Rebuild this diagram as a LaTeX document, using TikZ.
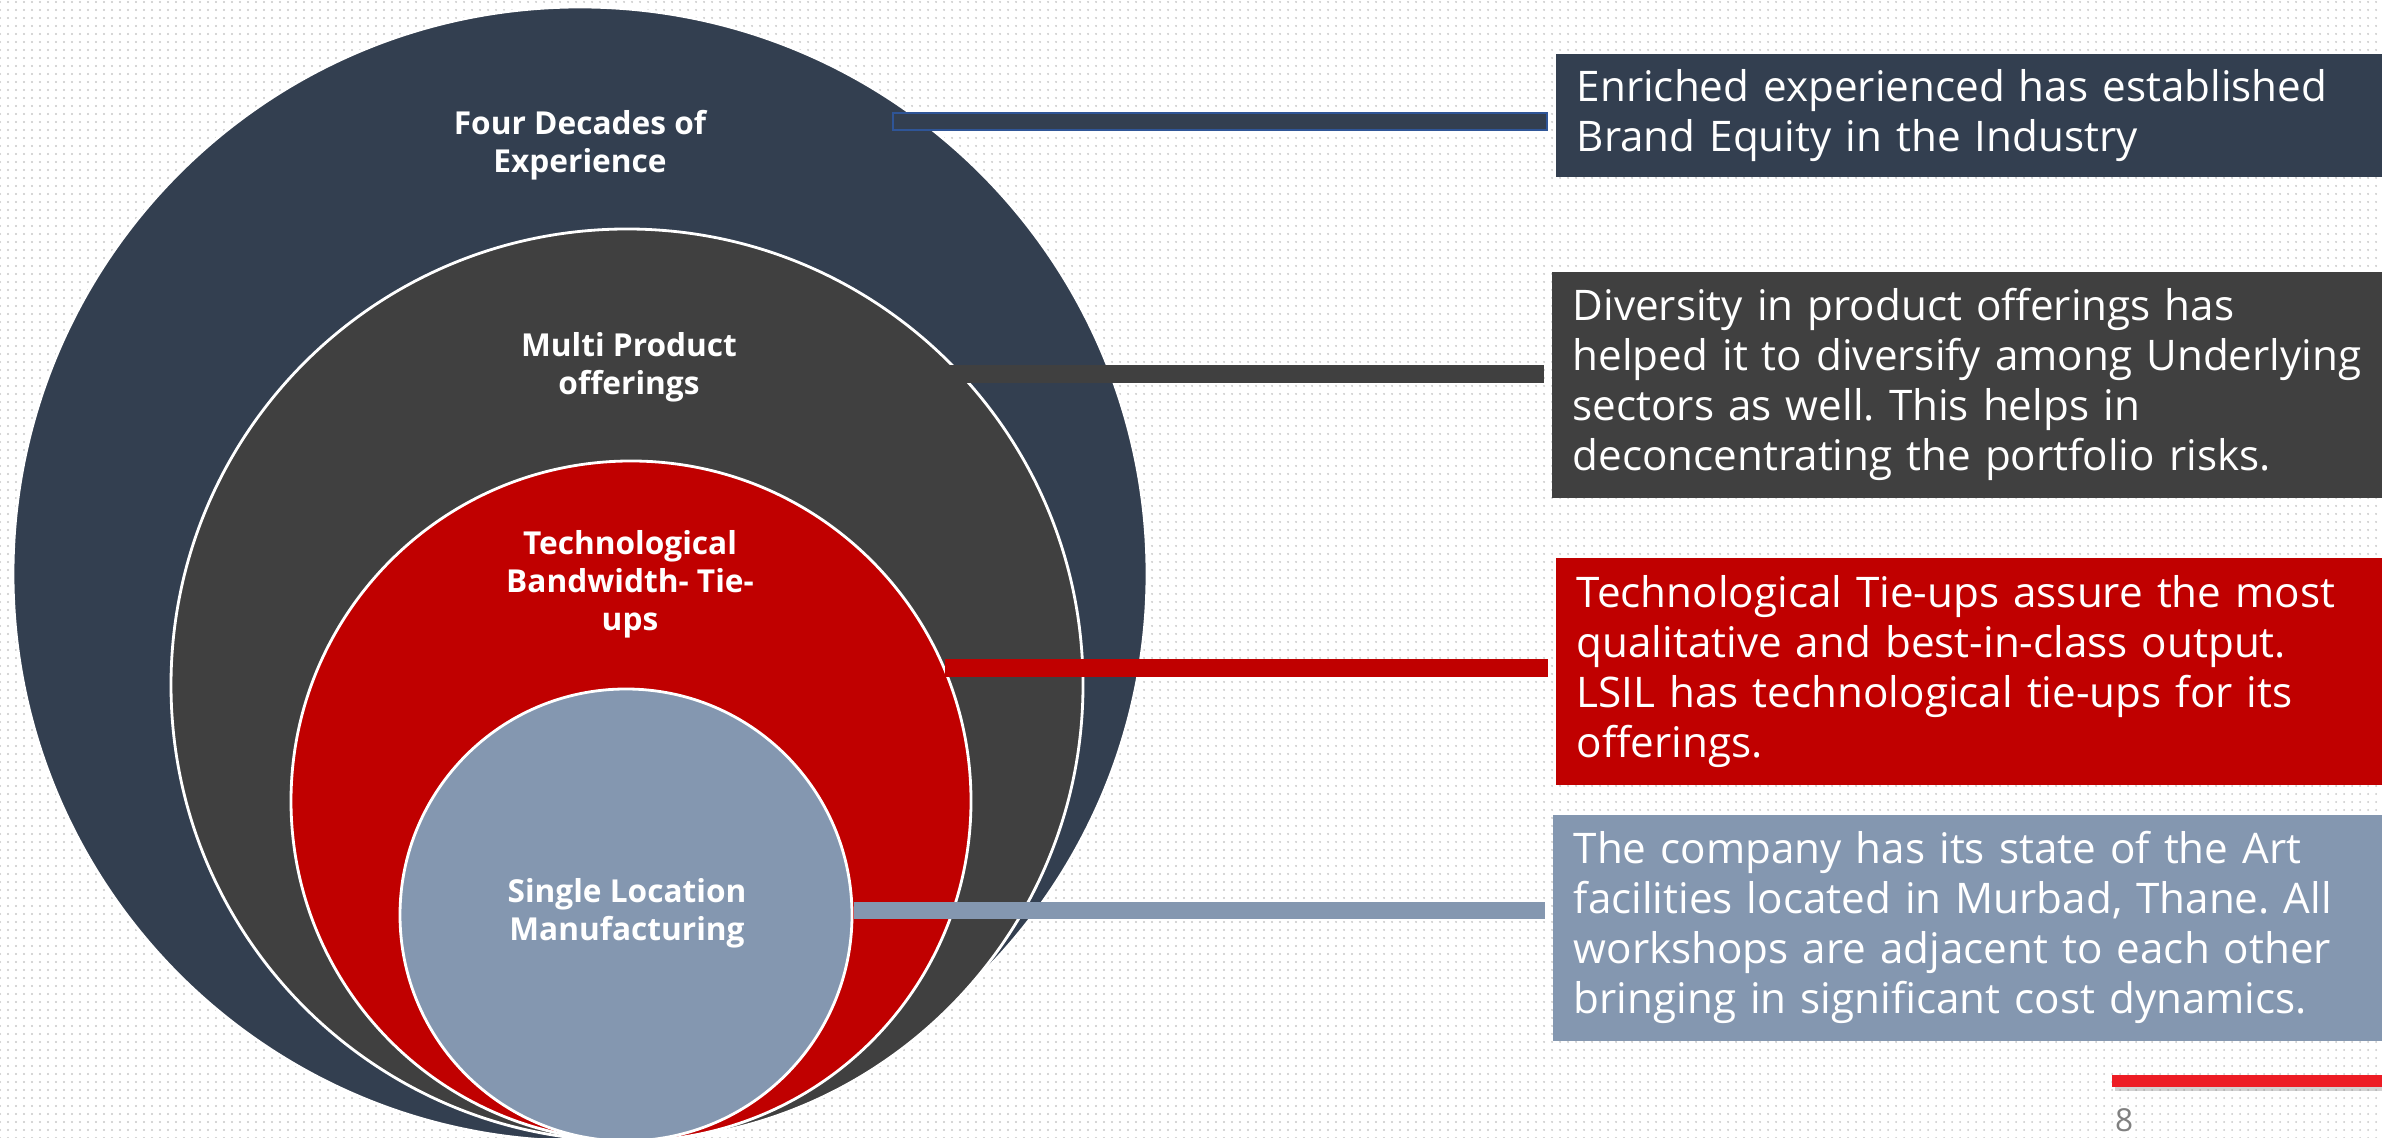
\documentclass[tikz,border=0pt]{standalone}
\usepackage{fontspec}
\setmainfont{Open Sans}
\usetikzlibrary{positioning, patterns.meta, shadows}
\definecolor{slate}{HTML}{333F50}
\definecolor{charcoal}{HTML}{404040}
\definecolor{crimson}{HTML}{C00000}
\definecolor{steel}{HTML}{8497B0}
\definecolor{rim}{HTML}{2F5597}
\definecolor{accent}{HTML}{ED1C24}
\definecolor{dotgray}{HTML}{C8C8C8}
\tikzset{
  node distance=0.2cm and 0.2cm,
  ring/.style={
      circle,
      draw=white,
      line width=0.8pt,
      inner sep=0pt
    },
  lbl/.style={
      text=white,
      align=center,
      font=\fontsize{9}{10.8}\selectfont\bfseries
    },
  box/.style={
      rectangle,
      anchor=north west,
      text=white,
      text width=7.95cm,
      inner xsep=0.21cm,
      align=left,
      font=\fontsize{12}{14.2}\selectfont\frenchspacing
    },
  bar/.style={
      line width=0.18cm,
      shorten >=0.07cm
    },
  rule/.style={
      rectangle,
      fill=accent,
      inner sep=0pt,
      minimum width=2.7cm,
      minimum height=0.12cm,
      drop shadow={shadow xshift=0.03cm, shadow yshift=-0.04cm, opacity=0.35}
    },
  pagenum/.style={
      text=gray,
      inner sep=0pt,
      font=\fontsize{9}{10}\selectfont
    }
}
\begin{document}
\begin{tikzpicture}
  \useasboundingbox (0,0) rectangle (23.82,11.38);
  \fill[white] (0,0) rectangle (23.82,11.38);
  \fill[pattern={Dots[distance=0.08cm, radius=0.3pt]}, pattern color=dotgray] (0,0) rectangle (23.82,11.38);
  \node[ring, fill=slate, minimum size=11.34cm] (ring1) at (5.80,5.64) {};
  \node[ring, fill=charcoal, minimum size=9.12cm] (ring2) at (6.27,4.53) {};
  \node[ring, fill=crimson, minimum size=6.80cm] (ring3) at (6.31,3.37) {};
  \node[ring, fill=steel, minimum size=4.52cm] (ring4) at (6.26,2.23) {};
  \node[lbl] (lab1) at (5.80,9.93) {Four Decades of\\Experience};
  \node[lbl] (lab2) at (6.29,7.71) {Multi Product\\offerings};
  \node[lbl] (lab3) at (6.30,5.54) {Technological\\Bandwidth- Tie-\\ups};
  \node[lbl] (lab4) at (6.27,2.25) {Single Location\\Manufacturing};
  \node[box, fill=slate, minimum height=1.23cm] (box1) at (15.55,10.85) {Enriched experienced has established\\Brand Equity in the Industry};
  \node[box, fill=charcoal, minimum height=2.26cm] (box2) at (15.51,8.67) {Diversity in product offerings has\\helped it to diversify among Underlying\\sectors as well. This helps in\\deconcentrating the portfolio risks.};
  \node[box, fill=crimson, minimum height=2.27cm] (box3) at (15.55,5.81) {Technological Tie-ups assure the most\\qualitative and best-in-class output.\\LSIL has technological tie-ups for its\\offerings.};
  \node[box, fill=steel, minimum height=2.26cm] (box4) at (15.52,3.24) {The company has its state of the Art\\facilities located in Murbad, Thane. All\\workshops are adjacent to each other\\bringing in significant cost dynamics.};
  \coordinate (e1) at (8.92,10.165); \coordinate (e2) at (9.49,7.64);
  \coordinate (e3) at (9.45,4.70); \coordinate (e4) at (8.54,2.275);
  \draw[bar, rim, line width=0.19cm] (e1) -- (box1.west |- e1);
  \draw[bar, slate, line width=0.15cm, shorten <=0.02cm, shorten >=0.09cm] (e1) -- (box1.west |- e1);
  \draw[bar, charcoal] (e2) -- (box2.west |- e2);
  \draw[bar, crimson] (e3) -- (box3.west |- e3);
  \draw[bar, steel, line width=0.17cm] (e4) -- (box4.west |- e4);
  \node[rule] (rule) at (22.47,0.57) {};
  \node[pagenum, below right=0.2cm and 0.03cm of rule.south west] (page) {8};
\end{tikzpicture}
\end{document}
